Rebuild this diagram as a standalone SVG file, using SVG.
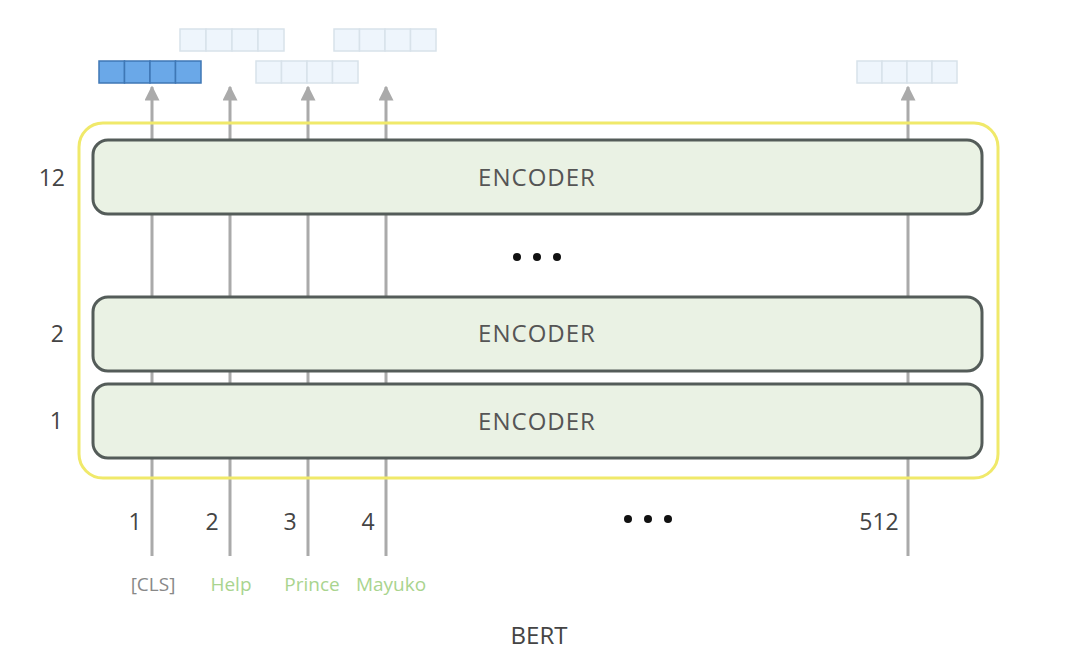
<svg xmlns="http://www.w3.org/2000/svg" width="1080" height="651" viewBox="0 0 1080 651">
<defs>
<style>
.t{font-family:"Open Sans","Noto Sans",sans-serif;}
.num{font-size:23px;fill:#444;}
.enc{fill:#eaf2e4;stroke:#545c59;stroke-width:3;}
.lbl{font-size:24px;fill:#555;text-anchor:middle;letter-spacing:1px;font-weight:500;}
.ln{stroke:#aaaaaa;stroke-width:3;fill:none;}
.hot{fill:#6aa8e8;stroke:#3f77b5;stroke-width:1.5;}
.pale{fill:#eef5fc;stroke:#d8e2ea;stroke-width:1.5;}
.tok{font-size:19px;text-anchor:middle;}
.dot{fill:#111;}
</style>
<marker id="ah" viewBox="0 0 10 10" refX="9" refY="5" markerWidth="5" markerHeight="5" orient="auto" markerUnits="strokeWidth">
<path d="M0,0 L10,5 L0,10 Z" fill="#aaaaaa"/>
</marker>
</defs>
<rect width="1080" height="651" fill="#ffffff"/>
<g id="connectors">
<line class="ln" x1="152" y1="556" x2="152" y2="87" marker-end="url(#ah)"/>
<line class="ln" x1="230" y1="556" x2="230" y2="87" marker-end="url(#ah)"/>
<line class="ln" x1="308" y1="556" x2="308" y2="87" marker-end="url(#ah)"/>
<line class="ln" x1="386" y1="556" x2="386" y2="87" marker-end="url(#ah)"/>
<line class="ln" x1="908" y1="556" x2="908" y2="87" marker-end="url(#ah)"/>
</g>
<g id="bert">
<rect x="79" y="123" width="919" height="355" rx="24" fill="none" stroke="#f0e96a" stroke-width="3"/>
</g>
<g id="encoder12">
<rect class="enc" x="93" y="140" width="889" height="74" rx="15"/>
<text class="t lbl" x="537" y="186">ENCODER</text>
</g>
<g id="encoder2">
<rect class="enc" x="93" y="297" width="889" height="74" rx="15"/>
<text class="t lbl" x="537" y="342">ENCODER</text>
</g>
<g id="encoder1">
<rect class="enc" x="93" y="384" width="889" height="74" rx="15"/>
<text class="t lbl" x="537" y="430">ENCODER</text>
</g>
<g id="layer-numbers">
<text class="t num" x="65" y="186" text-anchor="end">12</text>
<text class="t num" x="64" y="342" text-anchor="end">2</text>
<text class="t num" x="63" y="429" text-anchor="end">1</text>
</g>
<g id="dots-mid">
<circle class="dot" cx="517" cy="257" r="4"/>
<circle class="dot" cx="537" cy="257" r="4"/>
<circle class="dot" cx="557" cy="257" r="4"/>
</g>
<g id="dots-bottom">
<circle class="dot" cx="628" cy="519" r="4"/>
<circle class="dot" cx="648" cy="519" r="4"/>
<circle class="dot" cx="668" cy="519" r="4"/>
</g>
<g id="positions">
<text class="t num" x="135" y="530" text-anchor="middle">1</text>
<text class="t num" x="212" y="530" text-anchor="middle">2</text>
<text class="t num" x="290" y="530" text-anchor="middle">3</text>
<text class="t num" x="368" y="530" text-anchor="middle">4</text>
<text class="t num" x="879" y="530" text-anchor="middle">512</text>
</g>
<g id="tokens">
<text class="t tok" x="153" y="591" fill="#888">[CLS]</text>
<text class="t tok" x="231" y="591" fill="#a9d48e">Help</text>
<text class="t tok" x="312" y="591" fill="#a9d48e">Prince</text>
<text class="t tok" x="391" y="591" fill="#a9d48e">Mayuko</text>
</g>
<g id="vec-cls">
<rect class="hot" x="99" y="61" width="25.5" height="22"/>
<rect class="hot" x="124.5" y="61" width="25.5" height="22"/>
<rect class="hot" x="150" y="61" width="25.5" height="22"/>
<rect class="hot" x="175.5" y="61" width="25.5" height="22"/>
</g>
<g id="vec-help">
<rect class="pale" x="180" y="29" width="26" height="22"/>
<rect class="pale" x="206" y="29" width="26" height="22"/>
<rect class="pale" x="232" y="29" width="26" height="22"/>
<rect class="pale" x="258" y="29" width="26" height="22"/>
</g>
<g id="vec-prince">
<rect class="pale" x="256" y="61" width="25.5" height="22"/>
<rect class="pale" x="281.5" y="61" width="25.5" height="22"/>
<rect class="pale" x="307" y="61" width="25.5" height="22"/>
<rect class="pale" x="332.5" y="61" width="25.5" height="22"/>
</g>
<g id="vec-mayuko">
<rect class="pale" x="334" y="29" width="25.5" height="22"/>
<rect class="pale" x="359.5" y="29" width="25.5" height="22"/>
<rect class="pale" x="385" y="29" width="25.5" height="22"/>
<rect class="pale" x="410.5" y="29" width="25.5" height="22"/>
</g>
<g id="vec-512">
<rect class="pale" x="857" y="61" width="25" height="22"/>
<rect class="pale" x="882" y="61" width="25" height="22"/>
<rect class="pale" x="907" y="61" width="25" height="22"/>
<rect class="pale" x="932" y="61" width="25" height="22"/>
</g>
<g id="title">
<text class="t" x="539" y="644" font-size="24" fill="#444" text-anchor="middle">BERT</text>
</g>
</svg>
